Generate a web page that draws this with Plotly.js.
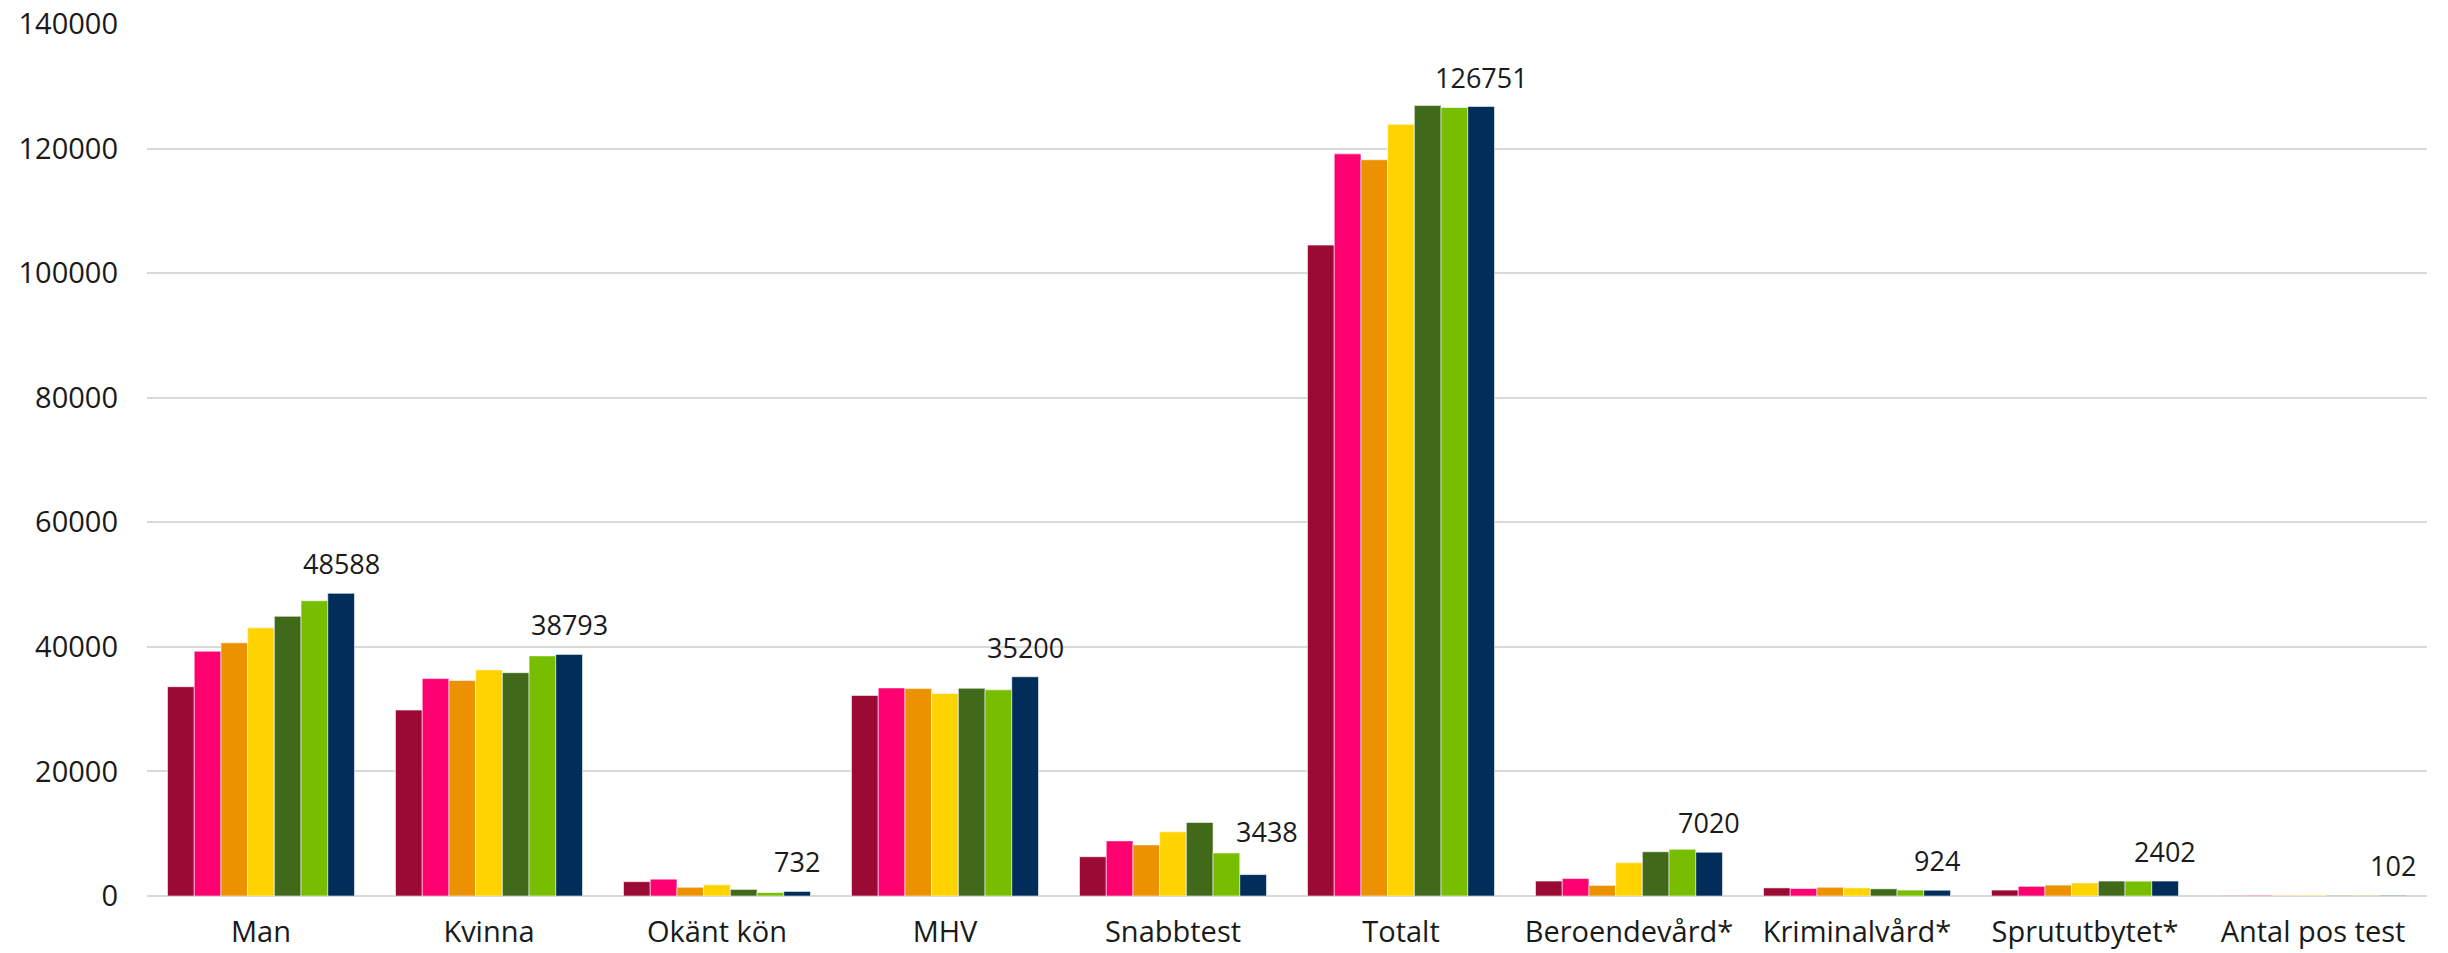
<!DOCTYPE html>
<html>
<head>
<meta charset="utf-8">
<script src="https://cdn.plot.ly/plotly-3.0.1.min.js"></script>
<style>
html,body{margin:0;padding:0;background:#fff;}
#chart{width:2448px;height:953px;}
</style>
</head>
<body>
<div id="chart"></div>
<script>
const categories = ["Man","Kvinna","Okänt kön","MHV","Snabbtest","Totalt","Beroendevård*","Kriminalvård*","Sprututbytet*","Antal pos test"];

const series1 = [33600, 29850, 2300, 32200, 6300, 104500, 2400, 1300, 950, 90];
const series2 = [39300, 34900, 2700, 33400, 8850, 119150, 2800, 1200, 1550, 110];
const series3 = [40650, 34600, 1400, 33300, 8200, 118200, 1700, 1400, 1750, 100];
const series4 = [43050, 36300, 1800, 32500, 10300, 123900, 5350, 1300, 2100, 120];
const series5 = [44900, 35850, 1050, 33350, 11800, 126900, 7100, 1150, 2400, 100];
const series6 = [47400, 38550, 550, 33100, 6900, 126600, 7500, 950, 2380, 110];
const series7 = [48588, 38793, 732, 35200, 3438, 126751, 7020, 924, 2402, 102];

const seriesColors = ["#9b0a35", "#ff0070", "#ec9200", "#ffd300", "#41691a", "#78be00", "#002d5a"];
const allSeries = [series1, series2, series3, series4, series5, series6, series7];

const traces = allSeries.map((vals, i) => ({
  type: "bar",
  x: categories,
  y: vals,
  marker: {color: seriesColors[i], line: {color: "rgba(255,255,255,0.55)", width: 1}},
  hoverinfo: "x+y",
  showlegend: false
}));

// value labels above the last series' bars (Snabbtest label nudged clear of the neighbouring bar)
const annotations = categories.map((c, k) => {
  const nudge = (c === "Snabbtest");
  return {
    x: c,
    y: series7[k],
    xref: "x",
    yref: "y",
    text: String(series7[k]),
    showarrow: false,
    xanchor: "center",
    yanchor: "bottom",
    xshift: nudge ? 94 : 80,
    yshift: nudge ? 23 : 9,
    font: {family: "Open Sans, Noto Sans, sans-serif", size: 27, color: "#1a1a1a"}
  };
});

const layout = {
  width: 2448,
  height: 953,
  margin: {l: 147, r: 21, t: 24, b: 57},
  paper_bgcolor: "#fff",
  plot_bgcolor: "#fff",
  barmode: "group",
  bargap: 0.18,
  bargroupgap: 0,
  font: {family: "Open Sans, Noto Sans, sans-serif", size: 29, color: "#1a1a1a"},
  annotations: annotations,
  xaxis: {
    type: "category",
    showgrid: false,
    showline: false,
    zeroline: false,
    ticks: "",
    ticklabelstandoff: 16,
    tickfont: {size: 29, color: "#1a1a1a"}
  },
  yaxis: {
    range: [0, 140000],
    dtick: 20000,
    tickformat: "d",
    showgrid: true,
    gridcolor: "#d9d9d9",
    gridwidth: 2,
    zeroline: true,
    zerolinecolor: "#d9d9d9",
    zerolinewidth: 2,
    showline: false,
    ticks: "",
    ticklabelstandoff: 28,
    tickfont: {size: 29, color: "#1a1a1a"}
  }
};

Plotly.newPlot("chart", traces, layout, {displayModeBar: false, staticPlot: true});
</script>
</body>
</html>
